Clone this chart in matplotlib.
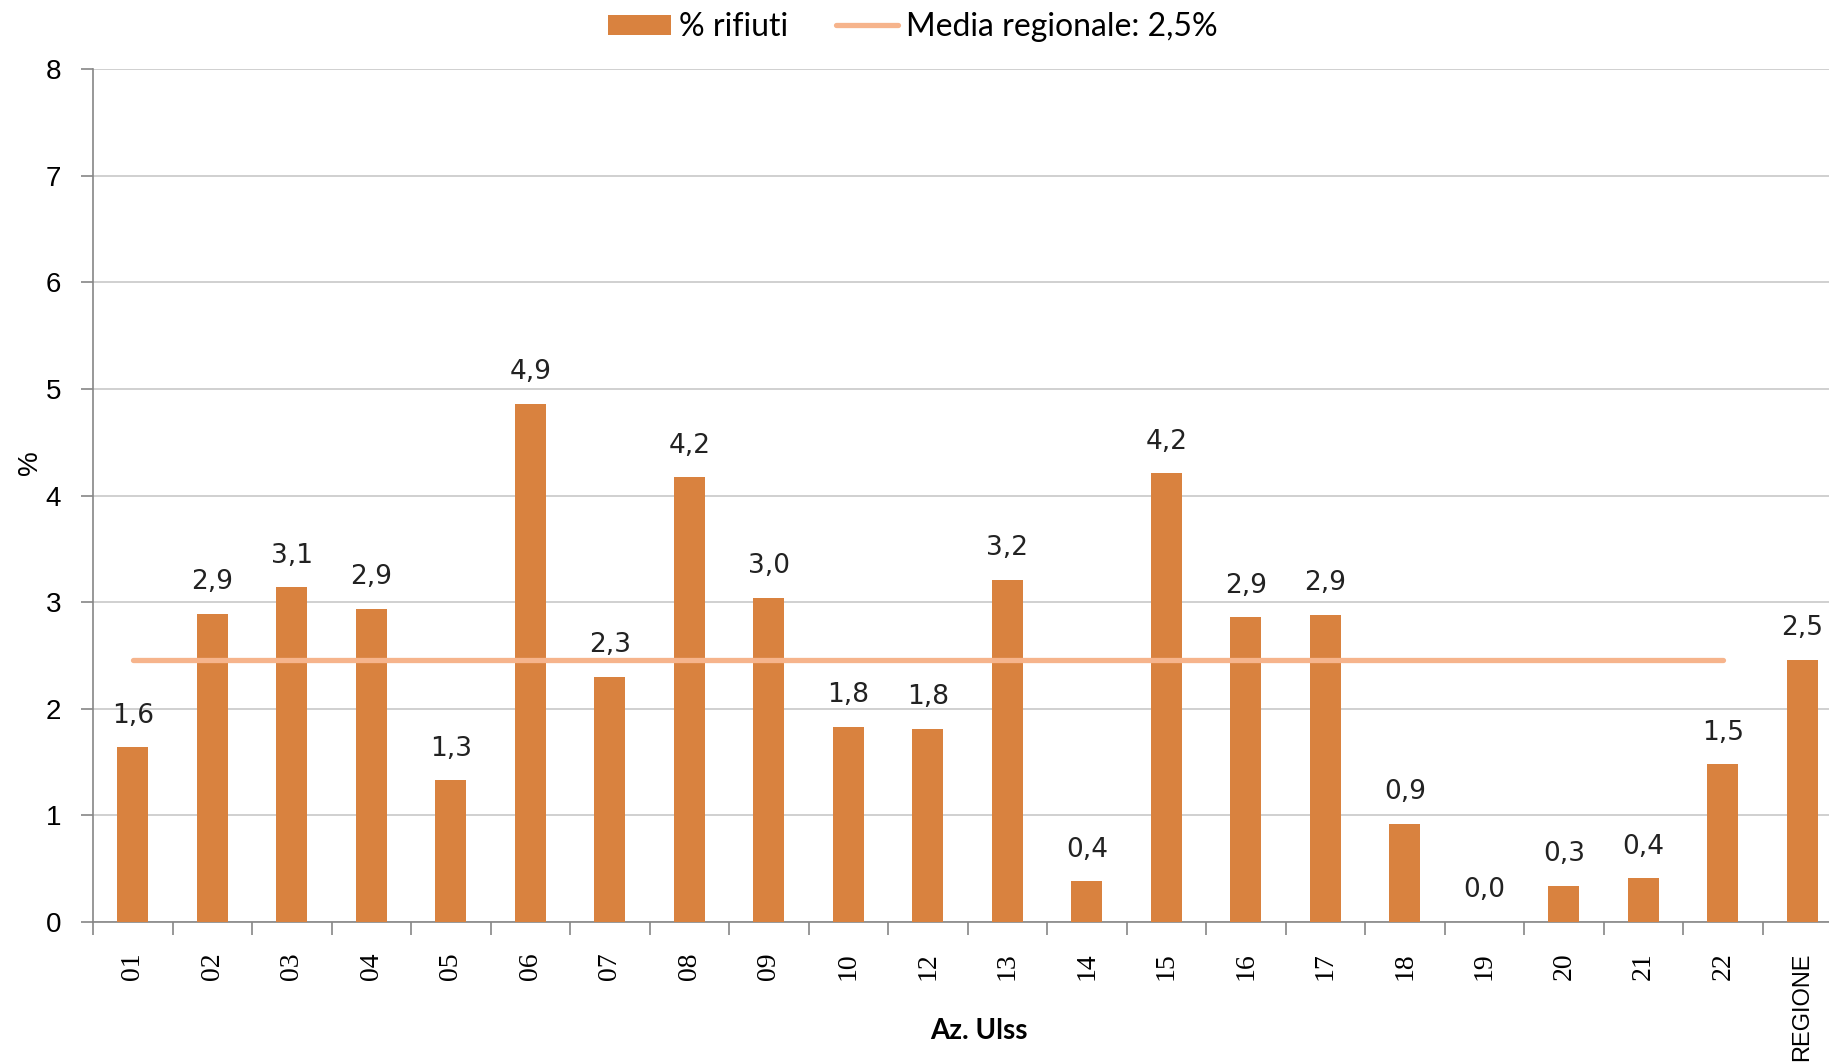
import matplotlib
matplotlib.use("Agg")
import matplotlib.pyplot as plt
from matplotlib.lines import Line2D
from matplotlib.patches import Patch
import numpy as np

categories = ["01", "02", "03", "04", "05", "06", "07", "08", "09", "10", "12",
              "13", "14", "15", "16", "17", "18", "19", "20", "21", "22", "REGIONE"]
values = [1.64, 2.89, 3.14, 2.94, 1.33, 4.86, 2.30, 4.17, 3.04, 1.83, 1.81,
          3.21, 0.38, 4.21, 2.86, 2.88, 0.92, 0.0, 0.34, 0.41, 1.48, 2.46]
media_regionale = 2.46
y_ticks = [0, 1, 2, 3, 4, 5, 6, 7, 8]

bar_color = "#D9823F"
line_color = "#F6B48C"
grid_color = "#C8C8C8"
axis_color = "#868686"

fig = plt.figure(figsize=(18.29, 10.64), dpi=100)
W, H = 1829, 1064
left_px, right_px = 93, 93 + 22 * 79.5
top_px, bottom_px = 69, 922
ax = fig.add_axes([left_px / W, 1 - bottom_px / H, (right_px - left_px) / W, (bottom_px - top_px) / H])

x = np.arange(len(categories))
ax.bar(x, values, width=0.39, color=bar_color, zorder=3)
ax.plot([0, len(categories) - 2], [media_regionale, media_regionale], color=line_color,
        linewidth=3.8, solid_capstyle="round", zorder=4)

for xi, v in zip(x, values):
    ax.text(xi, v + 0.23, f"{v:.1f}".replace(".", ","), ha="center", va="baseline",
            fontsize=19, family="DejaVu Sans", color="#222222", zorder=5)

ax.set_xlim(-0.5, len(categories) - 0.5)
ax.set_ylim(0, 8)
ax.set_yticks(y_ticks)
ax.set_yticklabels([str(t) for t in y_ticks], fontsize=20, family="Liberation Sans")
ax.yaxis.grid(True, color=grid_color, linewidth=1.2, zorder=0)
ax.tick_params(axis="y", length=9, width=1.2, color=axis_color, pad=14)

ax.set_xticks(x)
ax.set_xticklabels(categories, rotation=90, fontsize=20, family="Liberation Serif")
ax.tick_params(axis="x", which="major", length=0, pad=22)
ax.set_xticks(np.arange(len(categories) + 1) - 0.5, minor=True)
ax.tick_params(axis="x", which="minor", length=9, width=1.2, color=axis_color)
last = ax.get_xticklabels()[-1]
last.set_family(["Liberation Sans Narrow", "Liberation Sans"])
last.set_fontsize(17)
last.set_x(len(categories) - 1.05)

for s in ["top", "right"]:
    ax.spines[s].set_visible(False)
for s in ["left", "bottom"]:
    ax.spines[s].set_color(axis_color)
    ax.spines[s].set_linewidth(1.2)

fig.text(30 / W, 1 - 463 / H, "%", rotation=90, ha="center", va="center",
         fontsize=20, family="Liberation Sans")
fig.text(979 / W, 1 - 1031 / H, "Az. Ulss", ha="center", va="center",
         fontsize=20, fontweight="bold", family="Lato")

handles = [Patch(facecolor=bar_color, edgecolor="none"),
           Line2D([0], [0], color=line_color, linewidth=3.8, solid_capstyle="round")]
fig.legend(handles, ["% rifiuti", "Media regionale: 2,5%"], loc="center",
           bbox_to_anchor=(913 / W, 1 - 27 / H), ncol=2, frameon=False,
           prop={"family": "Lato", "size": 23}, handlelength=1.95, handleheight=0.6,
           columnspacing=1.5, handletextpad=0.25)

fig.savefig("out.png", dpi=100)
